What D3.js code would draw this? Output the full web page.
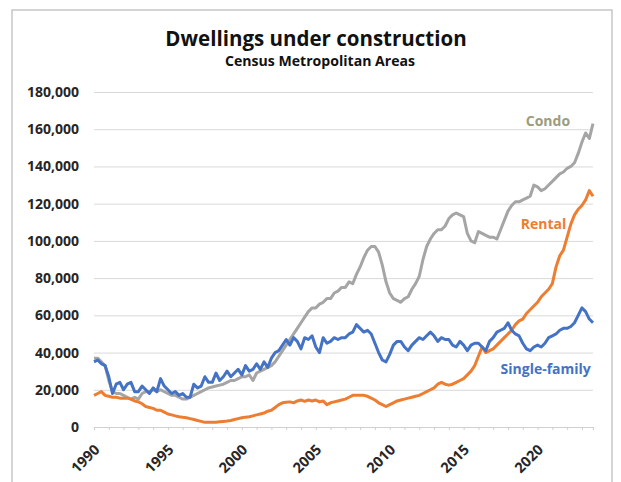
<!DOCTYPE html>
<html>
<head>
<meta charset="utf-8">
<script src="https://cdn.jsdelivr.net/npm/d3@7"></script>
<style>
  html, body { margin: 0; padding: 0; background: #fff; }
  svg { display: block; font-family: "Open Sans", "Noto Sans", sans-serif; }
</style>
</head>
<body>
<svg id="chart" width="621" height="482"></svg>
<script>
// Quarterly series, thousands of dwellings, starting Q1 1990
const startYear = 1990;
const stepYears = 0.25;
const unit = 1000;

const singleFamily = [
  35, 36, 34, 33,   27, 18, 23, 24,   20, 23, 24, 19,   19, 22, 20, 18,
  21, 19, 26, 22,   20, 18, 19, 17,   18, 16, 16, 23,   21, 22, 27, 24,
  24, 29, 25, 27,   30, 27, 29, 31,   28, 33, 30, 31,   34, 31, 35, 32,
  37, 40, 41, 44,   47, 44, 48, 46,   42, 48, 47, 49,   43, 40, 48, 45,
  46, 48, 47, 48,   48, 50, 51, 55,   53, 51, 52, 50,   45, 40, 36, 35,
  39, 44, 46, 46,   43, 41, 44, 46,   48, 47, 49, 51,   49, 46, 48, 47,
  47, 44, 43, 46,   44, 41, 44, 45,   45, 43, 41, 46,   48, 51, 52, 53,
  56, 52, 50, 49,   45, 42, 41, 43,   44, 43, 45, 48,   49, 50, 52, 53,
  53, 54, 56, 60,   64, 62, 58, 56
];

const condo = [
  37, 37, 35, 33,   25, 19, 18, 18,   17, 16, 15, 16,   15, 18, 19, 19,
  20, 19, 20, 19,   18, 17, 17, 16,   15, 15, 16, 17,   18, 19, 20, 21,
  21.5, 22, 22.5, 23, 24, 25, 25, 26, 27, 27, 28, 25,   29, 30, 31, 32,
  33, 35, 38, 41,   44, 47, 50, 53,   56, 59, 62, 64,   64, 66, 67, 69,
  69, 72, 73, 75,   75, 78, 77, 82,   86, 91, 95, 97,   97, 94, 87, 78,
  72, 69, 68, 67,   69, 70, 74, 77,   81, 90, 97, 101,  104, 106, 106, 108,
  112, 114, 115, 114, 113, 104, 100, 99, 105, 104, 103, 102, 102, 101, 106, 111,
  116, 119, 121, 121, 122, 123, 124, 130, 129, 127, 128, 130, 132, 134, 136, 137,
  139, 140, 142, 147, 153, 158, 155, 163
];

const rental = [
  17, 18, 19, 17,   16.5, 16, 16, 15.5, 15.5, 15.5, 15, 14, 13.5, 12.5, 11, 10.5,
  10, 9, 9, 8,      7, 6.5, 6, 5.5,   5.2, 5, 4.5, 4,   3.5, 3, 2.5, 2.5,
  2.6, 2.5, 2.8, 3, 3.2, 3.5, 4, 4.5, 5, 5.3, 5.5, 6,  6.5, 7, 7.5, 8.5,
  9, 10.5, 12, 13,  13.3, 13.5, 13, 14, 14.5, 13.8, 14.5, 14, 14.5, 13.5, 14, 12,
  13, 13.5, 14, 14.5, 15, 16, 17, 17, 17, 17, 16.5, 15.5, 14.5, 13, 12, 11,
  12, 13, 14, 14.5, 15, 15.5, 16, 16.5, 17, 18, 19, 20, 21, 23, 24, 23,
  22.5, 23, 24, 25, 26, 28, 30, 33, 38, 43, 40, 41,   42, 44, 46, 48,
  50, 52, 55, 57,   58, 61, 63, 65,   67, 70, 72, 74,   77, 86, 92, 95,
  102, 109, 114, 117, 119, 122, 127, 124
];

const seriesNames = ["Single-family", "Rental", "Condo"];
const seriesColors = ["#4472C4", "#ED7D31", "#A5A5A5"];
const labelColors = ["#4472C4", "#ED7D31", "#9C9C80"];
const labelAnchors = [[2020.55, 31500], [2020.4, 109500], [2020.7, 164500]];

const yTicks = [0, 20000, 40000, 60000, 80000, 100000, 120000, 140000, 160000, 180000];
const xTickYears = [1990, 1995, 2000, 2005, 2010, 2015, 2020];

const title = "Dwellings under construction";
const subtitle = "Census Metropolitan Areas";

const svg = d3.select("#chart");

// outer frame
svg.append("rect")
  .attr("x", 12).attr("y", 10)
  .attr("width", 600).attr("height", 490)
  .attr("fill", "#fff")
  .attr("stroke", "#c6c6c6").attr("stroke-width", 1.5);

const x = d3.scaleLinear().domain([1990, 2023.75]).range([94, 593]);
const y = d3.scaleLinear().domain([0, 180000]).range([427, 92]);

// titles
svg.append("text")
  .attr("x", 316).attr("y", 38)
  .attr("text-anchor", "middle").attr("dominant-baseline", "central")
  .attr("font-size", 20.5).attr("font-weight", 700).attr("fill", "#111")
  .text(title);
svg.append("text")
  .attr("x", 320).attr("y", 60)
  .attr("text-anchor", "middle").attr("dominant-baseline", "central")
  .attr("font-size", 14).attr("font-weight", 700).attr("fill", "#111")
  .attr("textLength", 190).attr("lengthAdjust", "spacingAndGlyphs")
  .text(subtitle);

// horizontal gridlines and y labels
const yAxis = d3.axisLeft(y).tickValues(yTicks)
  .tickSize(-(x.range()[1] - x.range()[0]))
  .tickPadding(15)
  .tickFormat(d3.format(","));
const gy = svg.append("g").attr("transform", `translate(${x.range()[0]},0)`).call(yAxis);
gy.select(".domain").remove();
gy.selectAll(".tick line").attr("stroke", "#d9d9d9").attr("stroke-width", 1);
gy.selectAll(".tick text")
  .attr("font-size", 14).attr("font-weight", 700).attr("fill", "#262626")
  .attr("font-family", "'Open Sans', sans-serif");

// x axis with yearly minor ticks
const yearTicks = d3.range(1990, 2024);
const xAxis = d3.axisBottom(x).tickValues(yearTicks).tickSize(3).tickFormat("");
const gx = svg.append("g").attr("transform", `translate(0,${y(0)})`).call(xAxis);
gx.select(".domain").attr("stroke", "#d0d0d0").attr("stroke-width", 1.2);
gx.selectAll(".tick line").attr("stroke", "#d0d0d0");

svg.append("g").selectAll("text")
  .data(xTickYears)
  .join("text")
  .attr("transform", d => `translate(${x(d) + 3},${y(0) + 20}) rotate(-45)`)
  .attr("text-anchor", "end").attr("dy", "0.35em")
  .attr("font-size", 14.5).attr("font-weight", 700).attr("fill", "#262626")
  .text(d => d);

// lines
const seriesData = [singleFamily, rental, condo];
const line = d3.line()
  .x((d, i) => x(startYear + i * stepYears))
  .y(d => y(d * unit));

// draw condo first, then rental, then single-family on top
[2, 1, 0].forEach(k => {
  svg.append("path")
    .datum(seriesData[k])
    .attr("fill", "none")
    .attr("stroke", seriesColors[k])
    .attr("stroke-width", 3)
    .attr("stroke-linejoin", "round")
    .attr("d", line);
});

// series labels
svg.append("g").selectAll("text")
  .data(seriesNames)
  .join("text")
  .attr("x", (d, i) => x(labelAnchors[i][0]))
  .attr("y", (d, i) => y(labelAnchors[i][1]))
  .attr("text-anchor", "middle").attr("dominant-baseline", "central")
  .attr("font-size", 14).attr("font-weight", 700)
  .attr("fill", (d, i) => labelColors[i])
  .text(d => d);
</script>
</body>
</html>
